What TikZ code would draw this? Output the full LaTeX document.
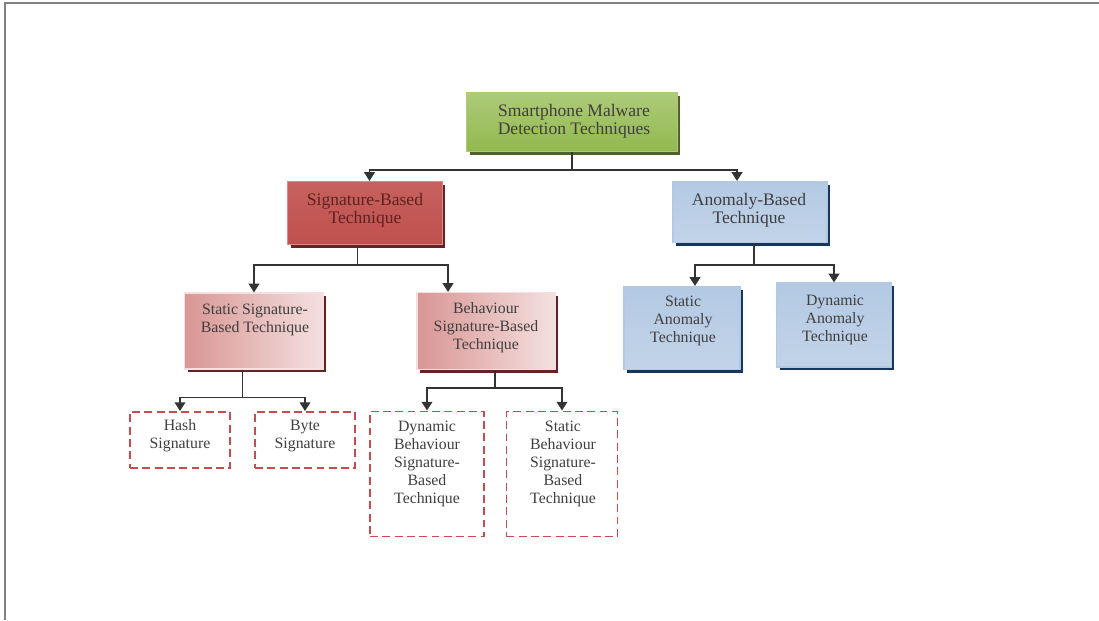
\documentclass[tikz,border=0pt]{standalone}
\usepackage{fontspec}
\setmainfont{Liberation Serif}
\definecolor{MDgreen}{HTML}{92B84F}
\definecolor{MDgreenL}{HTML}{AECB79}
\definecolor{MDgreenD}{HTML}{4F6228}
\definecolor{MDred}{HTML}{C0504D}
\definecolor{MDredL}{HTML}{DA8A88}
\definecolor{MDredD}{HTML}{632523}
\definecolor{MDpink}{HTML}{D99694}
\definecolor{MDpinkL}{HTML}{F4E0DF}
\definecolor{MDblue}{HTML}{B3C9E3}
\definecolor{MDblueL}{HTML}{E4ECF6}
\definecolor{MDblueD}{HTML}{17375E}
\definecolor{MDdash}{HTML}{C84B50}
\definecolor{MDtext}{HTML}{3F3F3F}
\definecolor{MDredT}{HTML}{5E2220}
\definecolor{MDarrow}{HTML}{333333}
\definecolor{MDframe}{HTML}{7F7F7F}
\usetikzlibrary{arrows.meta, positioning, shadows}
\tikzset{
   box/.style={rectangle, inner sep=0pt, line width=0.6pt},
   rootbox/.style={box, draw=MDgreenL, top color=MDgreenL, bottom color=MDgreen,
      drop shadow={shadow xshift=0.06cm, shadow yshift=-0.06cm, fill=MDgreenD, opacity=1}},
   sigbox/.style={box, draw=MDredL, top color=MDred!90!white, middle color=MDredL, bottom color=MDred,
      drop shadow={shadow xshift=0.06cm, shadow yshift=-0.06cm, fill=MDredD, opacity=1}},
   subbox/.style={box, draw=MDpinkL, left color=MDpink, right color=MDpinkL,
      drop shadow={shadow xshift=0.06cm, shadow yshift=-0.06cm, fill=MDredD, opacity=1}},
   anobox/.style={box, draw=MDblue, top color=MDblue, middle color=MDblueL, bottom color=MDblue!80!white,
      drop shadow={shadow xshift=0.06cm, shadow yshift=-0.06cm, fill=MDblueD, opacity=1}},
   leafbox/.style={box, draw=MDdash, line width=1.1pt, dash pattern=on 4.5pt off 2.5pt},
   txt/.style={align=center, inner sep=0pt, text=MDtext, font=\fontsize{10}{10.4}\selectfont},
   smalltxt/.style={txt, font=\fontsize{9}{10.2}\selectfont},
   conn/.style={-{Triangle[width=6pt,length=5pt]}, line width=1.1pt, MDarrow},
}

\begin{document}
\begin{tikzpicture}[x=0.02cm, y=-0.02cm]
      \useasboundingbox (0,0) rectangle (1099,620);
      % Frame
      \draw[MDframe, line width=1pt] (5,620) -- (5,3) -- (1099,3);
      % Root
      \node[rootbox, minimum width=4.22cm, minimum height=1.18cm] (root) at (572,122) {};
      \node[txt] (roott) at (574,121) {Smartphone Malware\\Detection Techniques};
      % Level 1
      \node[sigbox, minimum width=3.1cm, minimum height=1.26cm] (sig) at (365,213) {};
      \node[txt, text=MDredT] (sigt) at (365,210) {Signature-Based\\Technique};
      \node[anobox, minimum width=3.08cm, minimum height=1.22cm] (anom) at (750,212) {};
      \node[txt] (anomt) at (749,210) {Anomaly-Based\\Technique};
      % Level 2
      \node[subbox, minimum width=2.78cm, minimum height=1.52cm] (ssig) at (254,331) {};
      \node[smalltxt] (ssigt) at (255,320) {Static Signature-\\Based Technique};
      \node[subbox, minimum width=2.76cm, minimum height=1.54cm] (beh) at (486,331) {};
      \node[smalltxt] (beht) at (486,328) {Behaviour\\Signature-Based\\Technique};
      \node[anobox, minimum width=2.32cm, minimum height=1.66cm] (sanom) at (682,328) {};
      \node[smalltxt] (sanomt) at (683,321) {Static\\Anomaly\\Technique};
      \node[anobox, minimum width=2.3cm, minimum height=1.68cm] (danom) at (834,325) {};
      \node[smalltxt] (danomt) at (835,320) {Dynamic\\Anomaly\\Technique};
      % Level 3
      \node[leafbox, minimum width=2.0cm, minimum height=1.12cm] (hash) at (180,440) {};
      \node[smalltxt] (hasht) at (180,436) {Hash\\Signature};
      \node[leafbox, minimum width=2.0cm, minimum height=1.12cm] (byte) at (305,440) {};
      \node[smalltxt] (bytet) at (305,436) {Byte\\Signature};
      \node[leafbox, minimum width=2.28cm, minimum height=2.5cm] (dbeh) at (427,474) {};
      \node[smalltxt] (dbeht) at (427,464) {Dynamic\\Behaviour\\Signature-\\Based\\Technique};
      \node[leafbox, minimum width=2.22cm, minimum height=2.5cm] (sbeh) at (562,474) {};
      \node[smalltxt] (sbeht) at (563,464) {Static\\Behaviour\\Signature-\\Based\\Technique};
      % Connectors
      \draw[conn] (root.south) -- ++(0,18) -| ([xshift=0.09cm]sig.north);
      \draw[conn] (root.south) -- ++(0,18) -| ([xshift=-0.26cm]anom.north);
      \draw[conn] ([xshift=-0.15cm]sig.south) -- ++(0,20) -| (ssig.north);
      \draw[conn] ([xshift=-0.15cm]sig.south) -- ++(0,20) -| ([xshift=-0.76cm]beh.north);
      \draw[conn] ([xshift=0.08cm]anom.south) -- ++(0,22) -| ([xshift=0.26cm]sanom.north);
      \draw[conn] ([xshift=0.08cm]anom.south) -- ++(0,22) -| (danom.north);
      \draw[conn] ([xshift=-0.23cm]ssig.south) -- ++(0,28) -| (hash.north);
      \draw[conn] ([xshift=-0.23cm]ssig.south) -- ++(0,28) -| (byte.north);
      \draw[conn] ([xshift=0.18cm]beh.south) -- ++(0,18) -| (dbeh.north);
      \draw[conn] ([xshift=0.18cm]beh.south) -- ++(0,18) -| (sbeh.north);
   \end{tikzpicture}
\end{document}
